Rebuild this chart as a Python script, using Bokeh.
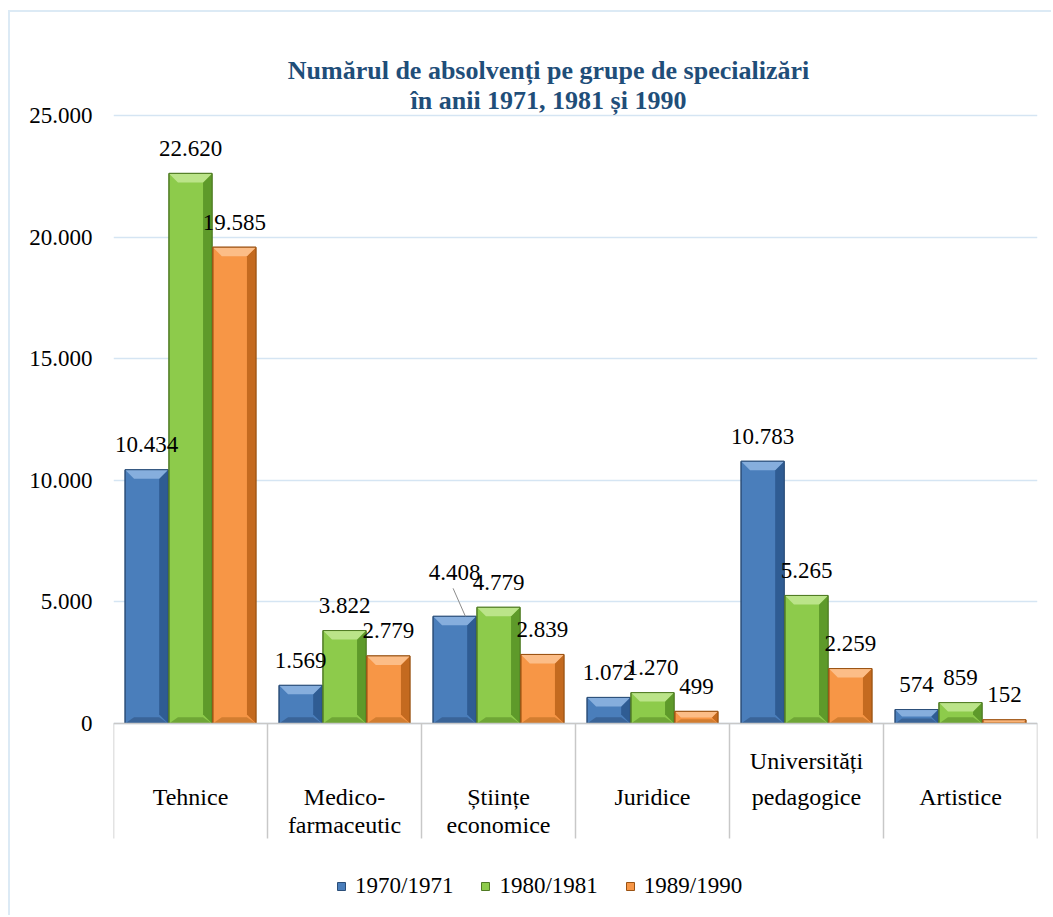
import numpy as np
from bokeh.plotting import figure
from bokeh.models import FixedTicker, Legend, LegendItem, Span, Range1d
from bokeh.core.properties import value
from bokeh.embed import file_html
from bokeh.resources import INLINE

# ---------------- data ----------------
categories = ["Tehnice", "Medico-farmaceutic", "Științe economice", "Juridice",
              "Universități pedagogice", "Artistice"]
cat_line1 = ["Tehnice", "Medico-", "Științe", "Juridice", "Universități", "Artistice"]
cat_line2 = ["", "farmaceutic", "economice", "", "pedagogice", ""]
series = ["1970/1971", "1980/1981", "1989/1990"]
v1971 = [10434, 1569, 4408, 1072, 10783, 574]
v1981 = [22620, 3822, 4779, 1270, 5265, 859]
v1990 = [19585, 2779, 2839, 499, 2259, 152]
y_ticks = [0, 5000, 10000, 15000, 20000, 25000]
title_lines = ["Numărul de absolvenți pe grupe de specializări",
               "în anii 1971, 1981 și 1990"]

# ---------------- styling / geometry ----------------
FONT = "Liberation Serif, Times New Roman, Tinos, DejaVu Serif, serif"
OX, OY = 10, 12                 # page position of figure content (after margin + border)
W, H = 1053 - OX, 917 - OY
FRAME_L, FRAME_R = 113, 1037    # frame edges on the page
LEFT, RIGHT = FRAME_L - OX, 1053 - FRAME_R
FRAME_W = FRAME_R - FRAME_L
XS = FRAME_W / len(categories)          # px per category
BASE_Y = 723                            # page y of value 0
K = (BASE_Y - 115) / 25000              # px per value unit
Y_TOP = (BASE_Y - OY) / K
Y_BOT = -(917 - BASE_Y) / K

palette = {
    "base":   ["#4A7EBB", "#8DCB4B", "#F79646"],
    "top":    ["#86AEDD", "#BBE489", "#FCBD87"],
    "right":  ["#2F5C93", "#5E9A2A", "#C46A1F"],
    "bottom": ["#3A6498", "#6FA636", "#D27D30"],
    "line":   ["#2B4E78", "#4F7A23", "#9A5212"],
}

def fmt(v):
    return f"{v:,}".replace(",", ".")

p = figure(width=W, height=H, output_backend="svg", toolbar_location=None,
           x_range=Range1d(0, len(categories)), y_range=Range1d(Y_BOT, Y_TOP),
           x_axis_location=None, min_border_left=LEFT, min_border_right=RIGHT,
           min_border_top=0, min_border_bottom=0)
p.outline_line_color = None
p.background_fill_color = "white"
p.styles = {"margin-left": "8px", "margin-top": "10px",
            "border-left": "2px solid #DCEAF5", "border-top": "2px solid #DCEAF5"}

# y axis
p.yaxis.ticker = FixedTicker(ticks=y_ticks)
p.yaxis.major_label_overrides = {t: fmt(t) for t in y_ticks}
p.yaxis.axis_line_color = None
p.yaxis.major_tick_line_color = None
p.yaxis.major_tick_out = 0
p.yaxis.major_tick_in = 0
p.yaxis.minor_tick_line_color = None
p.yaxis.major_label_standoff = 21
p.yaxis.major_label_text_font = FONT
p.yaxis.major_label_text_font_size = "23px"
p.yaxis.major_label_text_color = "black"
p.xgrid.visible = False
p.ygrid.grid_line_color = "#D5E5F3"
p.ygrid.grid_line_width = 1.5

# baseline and category separators
p.add_layout(Span(location=0, dimension="width", line_color="#C8C8C8", line_width=1.5))
sep_depth = (838 - BASE_Y) / K
nsep = len(categories) + 1
p.segment(x0=list(range(nsep)), y0=[0] * nsep, x1=list(range(nsep)), y1=[-sep_depth] * nsep,
          line_color="#C8C8C8", line_width=1.5)

# bars
vals_all = [v1971, v1981, v1990]
offsets = [-0.285, 0.0, 0.285]
bw = 0.28
bev_px = 9
renderers = []
bar_x = []
for si, vals in enumerate(vals_all):
    xs = [i + 0.5 + offsets[si] for i in range(len(categories))]
    bar_x.append(xs)
    r = p.vbar(x=xs, top=vals, width=bw, bottom=0,
               fill_color=palette["base"][si], line_color=palette["line"][si], line_width=1)
    renderers.append(r)
    tx, ty, rx, ry, bx, by = [], [], [], [], [], []
    for xc, v in zip(xs, vals):
        l, rr = xc - bw / 2, xc + bw / 2
        h = min(bev_px / K, v / 2)
        d = min(bev_px, h * K) / XS
        tx.append([l, rr, rr - d, l + d]); ty.append([v, v, v - h, v - h])
        rx.append([rr - d, rr, rr, rr - d]); ry.append([v - h, v, 0, h])
        bx.append([l, rr, rr - d, l + d]); by.append([0, 0, h * 0.7, h * 0.7])
    p.patches(xs=bx, ys=by, fill_color=palette["bottom"][si], line_color=None)
    p.patches(xs=rx, ys=ry, fill_color=palette["right"][si], line_color=None)
    p.patches(xs=tx, ys=ty, fill_color=palette["top"][si], line_color=None)
    p.vbar(x=xs, top=vals, width=bw, bottom=0, fill_color=None,
           line_color=palette["line"][si], line_width=1)

# data labels, drawn over all bars (one label lifted with a leader line, as in the original)
for xs, vals in zip(bar_x, vals_all):
    raised = [fmt(v) == "4.408" for v in vals]
    nx = [x for x, rz in zip(xs, raised) if not rz]
    ny = [y for y, rz in zip(vals, raised) if not rz]
    nt = [fmt(v) for v, rz in zip(vals, raised) if not rz]
    p.text(x=nx, y=ny, text=nt, text_align="center", text_baseline="middle", y_offset=-25,
           text_font=value(FONT), text_font_size="23px", text_color="black")
    ux = [x for x, rz in zip(xs, raised) if rz]
    uy = [y for y, rz in zip(vals, raised) if rz]
    if ux:
        p.text(x=ux, y=uy, text=[fmt(v) for v, rz in zip(vals, raised) if rz],
               text_align="center", text_baseline="middle", y_offset=-44,
               text_font=value(FONT), text_font_size="23px", text_color="black")
        p.segment(x0=[x - 0.01 for x in ux], y0=[y + 28 / K for y in uy],
                  x1=[x + 0.07 for x in ux], y1=uy, line_color="#8C8C8C", line_width=1)

# category labels
cx = [i + 0.5 for i in range(len(categories))]
y_main = -(796 - BASE_Y) / K
y_up = -(760 - BASE_Y) / K
y_down = -(824 - BASE_Y) / K
l1y, l2y = [], []
for a, b in zip(cat_line1, cat_line2):
    if b and a.startswith("Univ"):
        l1y.append(y_up); l2y.append(y_main)
    else:
        l1y.append(y_main); l2y.append(y_down)
p.text(x=cx, y=l1y, text=cat_line1, text_align="center", text_baseline="middle",
       text_font=value(FONT), text_font_size="24px", text_color="black")
p.text(x=cx, y=l2y, text=cat_line2, text_align="center", text_baseline="middle",
       text_font=value(FONT), text_font_size="24px", text_color="black")

# title
tx_c = (548 - FRAME_L) / XS
p.text(x=[tx_c, tx_c], y=[(BASE_Y - 70) / K, (BASE_Y - 100) / K], text=title_lines,
       text_align="center", text_baseline="middle", text_font=value(FONT),
       text_font_style="bold", text_font_size="26px", text_color="#1F4E79")

# legend
legend = Legend(items=[LegendItem(label=s, renderers=[r]) for s, r in zip(series, renderers)],
                orientation="horizontal", location=(336 - FRAME_L, 18))
legend.glyph_width = 10
legend.glyph_height = 10
legend.label_standoff = 9
legend.spacing = 27
legend.padding = 0
legend.margin = 0
legend.border_line_color = None
legend.background_fill_alpha = 0
legend.label_text_font = FONT
legend.label_text_font_size = "23px"
legend.label_text_color = "black"
p.add_layout(legend)

open("out.html", "w").write(file_html(p, INLINE))
